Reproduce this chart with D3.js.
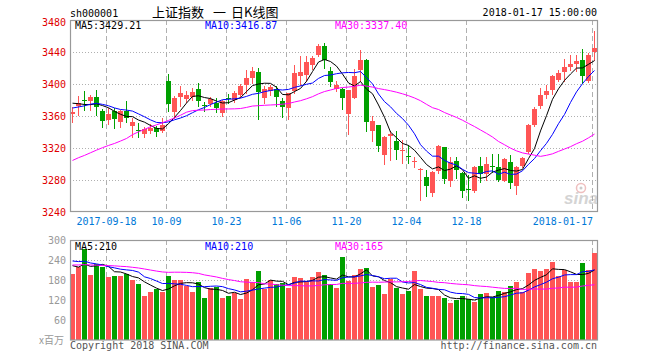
<!DOCTYPE html>
<html><head><meta charset="utf-8">
<script src="https://cdn.jsdelivr.net/npm/d3@7"></script>
<style>body{margin:0;background:#fff;} svg{display:block}</style>
</head><body><svg id="c" width="660" height="360"></svg>
<script>
const dates = ["2017-09-08","2017-09-11","2017-09-12","2017-09-13","2017-09-14","2017-09-15","2017-09-18","2017-09-19","2017-09-20","2017-09-21","2017-09-22","2017-09-25","2017-09-26","2017-09-27","2017-09-28","2017-09-29","2017-10-09","2017-10-10","2017-10-11","2017-10-12","2017-10-13","2017-10-16","2017-10-17","2017-10-18","2017-10-19","2017-10-20","2017-10-23","2017-10-24","2017-10-25","2017-10-26","2017-10-27","2017-10-30","2017-10-31","2017-11-01","2017-11-02","2017-11-03","2017-11-06","2017-11-07","2017-11-08","2017-11-09","2017-11-10","2017-11-13","2017-11-14","2017-11-15","2017-11-16","2017-11-17","2017-11-20","2017-11-21","2017-11-22","2017-11-23","2017-11-24","2017-11-27","2017-11-28","2017-11-29","2017-11-30","2017-12-01","2017-12-04","2017-12-05","2017-12-06","2017-12-07","2017-12-08","2017-12-11","2017-12-12","2017-12-13","2017-12-14","2017-12-15","2017-12-18","2017-12-19","2017-12-20","2017-12-21","2017-12-22","2017-12-25","2017-12-26","2017-12-27","2017-12-28","2017-12-29","2018-01-02","2018-01-03","2018-01-04","2018-01-05","2018-01-08","2018-01-09","2018-01-10","2018-01-11","2018-01-12","2018-01-15","2018-01-16","2018-01-17"];
const opens = [3362,3372,3380.5,3378.3,3383.8,3366,3355,3366,3353,3366,
3347,3343,3337.5,3341.7,3344.6,3341.7,3404.2,3365,3384,3381,
3384,3393.7,3374,3375,3376,3364,3382,3380,3385.8,3399,
3407.5,3415,3382.5,3391,3393.7,3379.2,3370,3390.8,3409.6,3411.7,
3423.3,3435.8,3447.5,3416.7,3394,3393.7,3363,3382.5,3417,3430.4,
3340.8,3348.3,3311.7,3335,3328.75,3316,3310.5,3302.5,3292,3284,
3263.3,3291.7,3320.8,3279.2,3304.2,3289,3268.5,3266.7,3297.5,3287.5,
3298,3295.8,3279.2,3302.5,3273,3297,3315,3348.3,3372,3386.7,
3392,3405.4,3415,3421,3425.5,3430.4,3404.2,3439.6];
const highs = [3371,3385,3391,3386.7,3393,3369,3370,3370,3368,3378.3,
3357,3351,3346.7,3350,3347,3357,3412.5,3385,3397,3391.7,
3395,3400.8,3378,3384,3382.5,3380.4,3387,3391,3400,3417.9,
3421.2,3420,3397,3399,3397,3382.5,3389,3424,3435.4,3435.4,
3435.4,3450.4,3451.3,3421.2,3403.3,3395,3393,3418.8,3442.1,3431,
3360.4,3349,3334.5,3341,3341,3330,3323.75,3309,3295.4,3292.5,
3291,3323.75,3321.5,3308.3,3309,3290,3286,3297.5,3309,3309,
3312,3312.5,3308,3311.7,3297.5,3308.5,3350,3370.8,3395,3399,
3411.7,3418,3431.7,3436,3436.7,3444.2,3439,3466.7];
const lows = [3353,3361,3368,3368,3361.7,3345.8,3350,3345,3346.7,3352,
3334,3334,3333.3,3339,3335.6,3339.6,3365.8,3357,3372,3377.5,
3380,3372.9,3366,3373,3365,3359.6,3376,3378,3384,3388.8,
3401.3,3356,3376,3386,3373,3358.3,3356.3,3388.8,3399.2,3403.3,
3419.2,3434.6,3420,3397.1,3390.8,3368.7,3337.5,3382,3403.3,3341.7,
3329.2,3315.8,3300,3305,3305.8,3301.7,3300.8,3296.7,3255,3260,
3260,3288.3,3275.8,3272.5,3282,3259,3255,3265.4,3278,3280,
3290,3278.3,3278.5,3270,3262.5,3295.8,3313.75,3348,3370,3382.5,
3387.5,3403.3,3403.3,3418,3416,3401.3,3403,3430.4];
const closes = [3365.24,3376.42,3379.49,3384.15,3371.43,3353.62,3362.86,3356.84,3366.00,3357.81,
3352.53,3341.55,3343.58,3345.27,3339.64,3348.94,3374.38,3382.99,3388.28,3386.10,
3390.52,3378.47,3372.04,3381.79,3370.17,3378.65,3380.70,3388.25,3396.90,3407.57,
3416.81,3390.34,3393.34,3395.91,3383.31,3371.74,3388.17,3413.57,3415.46,3427.79,
3432.67,3447.84,3429.55,3402.52,3399.25,3382.91,3392.40,3410.50,3430.46,3351.92,
3353.82,3322.23,3333.66,3337.86,3317.19,3317.62,3309.62,3303.68,3293.96,3272.05,
3289.99,3322.20,3280.81,3303.04,3292.44,3266.14,3267.92,3296.54,3287.61,3300.06,
3297.06,3280.46,3306.12,3275.78,3296.38,3307.17,3348.33,3369.11,3385.71,3391.75,
3409.48,3413.90,3421.83,3425.34,3428.94,3410.49,3436.59,3444.67];
const volumes = [199,218,273,196,227,220,189,192,192,198,
181,169,132,144,152,145,192,180,180,163,
143,174,126,157,160,126,132,141,123,183,
175,207,153,180,168,172,156,189,186,174,
189,204,196,168,156,250,177,196,213,216,
159,165,138,183,156,138,147,208,153,132,
132,132,126,111,120,132,123,114,138,141,
129,147,144,162,174,144,201,213,207,213,
234,192,210,174,174,231,210,261];
// history before the first visible day, used only for the moving averages
const priorCloses = [3273.03,3292.64,3285.06,3272.93,3262.08,3279.46,3281.87,3275.57,3261.75,3208.54,
3237.36,3251.26,3246.45,3268.43,3268.72,3286.91,3290.23,3287.71,3271.51,3331.52,
3362.65,3365.23,3363.63,3360.81,3367.12,3379.58,3384.32,3385.39,3365.50];
const priorVolumes = [215,240,228,250,236,205,218,232,226,244,230,222,238,245,225,226,
168,182,176,174,236,262,248,255,254,240,226,232,218];
const priceTicks = [3240,3280,3320,3360,3400,3440,3480];
const volTicks = [60,120,180,240,300];
const tickDates = ["2017-09-18","2017-10-09","2017-10-23","2017-11-06","2017-11-20","2017-12-04","2017-12-18","2018-01-17"];
const tickLabels = ["2017-09-18","10-09","10-23","11-06","11-20","12-04","12-18","2018-01-17"];
const maPeriods = [5,10,30];
const maColors = ["#000000","#0000ff","#ff00ff"];
const titleParts = ["上证指数", "一", "日K线图"];

const svg = d3.select("#c");
const MONO = "'DejaVu Sans Mono', 'Liberation Mono', monospace";
const CJK = "'Noto Sans CJK SC', sans-serif";
const UP = "#ff5555", DOWN = "#00a000";
const L = 70, R = 597.5, T = 20, B = 211.5, VT = 240, VB = 340;

const x = d3.scaleBand().domain(dates).range([L, L + 6*dates.length - 1]).paddingInner(1/6).paddingOuter(0);
const y = d3.scaleLinear().domain([3240, 3480]).range([212, 20]);
const yv = d3.scaleLinear().domain([0, 300]).range([VB, VT]);

function movingAvg(prior, vals, n) {
  const all = prior.concat(vals);
  const off = prior.length;
  return vals.map((_, i) => d3.mean(all.slice(off + i - n + 1, off + i + 1)));
}
const priceMA = maPeriods.map(n => movingAvg(priorCloses, closes, n));
const volMA = maPeriods.map(n => movingAvg(priorVolumes, volumes, n));

const g = svg.append("g");
const defs = svg.append("defs");
defs.append("clipPath").attr("id","cp").append("rect").attr("x",L).attr("y",T).attr("width",R-L).attr("height",B-T);
defs.append("clipPath").attr("id","cv").append("rect").attr("x",L).attr("y",VT).attr("width",R-L).attr("height",VB-VT);

// grids main
g.selectAll(".hg").data(priceTicks.filter(t => t > 3240 && t < 3480)).join("line")
  .attr("x1", L).attr("x2", R).attr("y1", d => Math.round(y(d)) + 0.5).attr("y2", d => Math.round(y(d)) + 0.5)
  .attr("stroke", "#b0b0b0").attr("stroke-dasharray", "1,2");
g.selectAll(".vg").data(tickDates).join("line")
  .attr("x1", d => x(d) + 0.5).attr("x2", d => x(d) + 0.5).attr("y1", T).attr("y2", B)
  .attr("stroke", "#b0b0b0").attr("stroke-dasharray", "5,3");
// grids volume
g.selectAll(".hvg").data(volTicks.filter(t => t < 300)).join("line")
  .attr("x1", L).attr("x2", R).attr("y1", d => Math.round(yv(d)) + 0.5).attr("y2", d => Math.round(yv(d)) + 0.5)
  .attr("stroke", "#b0b0b0").attr("stroke-dasharray", "1,2");
g.selectAll(".vvg").data(tickDates).join("line")
  .attr("x1", d => x(d) + 0.5).attr("x2", d => x(d) + 0.5).attr("y1", VT).attr("y2", VB)
  .attr("stroke", "#b0b0b0").attr("stroke-dasharray", "5,3");

// watermark
const wm = g.append("g").attr("opacity", 0.5);
wm.append("circle").attr("cx", 581).attr("cy", 188).attr("r", 4.5).attr("fill", "none").attr("stroke", "#e08080").attr("stroke-width", 1.5);
wm.append("circle").attr("cx", 581).attr("cy", 188).attr("r", 1.5).attr("fill", "#999");
wm.append("text").attr("x", 564).attr("y", 204).attr("font-family", "'Liberation Sans', Arial, sans-serif")
  .attr("font-size", 17).attr("font-weight", "bold").attr("font-style", "italic").attr("fill", "#aaa").text("sina");

// candles
const cg = g.append("g").attr("clip-path", "url(#cp)").attr("shape-rendering", "crispEdges");
dates.forEach((d, i) => {
  const o = opens[i], c = closes[i], h = highs[i], l = lows[i];
  const col = c >= o ? UP : DOWN;
  const xl = x(d);
  cg.append("line").attr("x1", xl + 2.5).attr("x2", xl + 2.5)
    .attr("y1", Math.round(y(h))).attr("y2", Math.round(y(l)) + 1).attr("stroke", col);
  const yt = Math.round(y(Math.max(o, c))), yb = Math.round(y(Math.min(o, c)));
  cg.append("rect").attr("x", xl).attr("width", x.bandwidth()).attr("y", yt)
    .attr("height", Math.max(1, yb - yt)).attr("fill", col);
});
// volume bars
const vg = g.append("g").attr("clip-path", "url(#cv)").attr("shape-rendering", "crispEdges");
vg.selectAll("rect").data(dates).join("rect")
  .attr("x", d => x(d)).attr("width", x.bandwidth())
  .attr("y", (d, i) => Math.round(yv(volumes[i]))).attr("height", (d, i) => VB - Math.round(yv(volumes[i])))
  .attr("fill", (d, i) => closes[i] >= opens[i] ? UP : DOWN);

// MA lines
const lineP = d3.line().x((v, i) => x(dates[i]) + 2.5).y(v => y(v));
const lineV = d3.line().x((v, i) => x(dates[i]) + 2.5).y(v => yv(v));
const mg = g.append("g").attr("clip-path", "url(#cp)");
priceMA.forEach((arr, k) => mg.append("path").attr("d", lineP(arr)).attr("fill", "none").attr("stroke", maColors[k]).attr("stroke-width", 1));
const mvg = g.append("g").attr("clip-path", "url(#cv)");
volMA.forEach((arr, k) => mvg.append("path").attr("d", lineV(arr)).attr("fill", "none").attr("stroke", maColors[k]).attr("stroke-width", 1));

// frames
g.append("rect").attr("x", L + 0.5).attr("y", T + 0.5).attr("width", R - L - 0.5).attr("height", B - T - 0.5)
  .attr("fill", "none").attr("stroke", "#999").attr("stroke-width", 1.2);
g.append("rect").attr("x", L + 0.5).attr("y", VT + 0.5).attr("width", R - L - 0.5).attr("height", VB - VT - 0.5)
  .attr("fill", "none").attr("stroke", "#999").attr("stroke-width", 1.2);

// texts
const txt = (xx, yy, s, col, anchor, size, fam) => svg.append("text").attr("x", xx).attr("y", yy)
  .attr("fill", col).attr("text-anchor", anchor || "start").attr("font-size", size || 10)
  .attr("font-family", fam || MONO).text(s);

txt(70, 16.5, "sh000001", "#000");
const title = svg.append("text").attr("y", 16.5).attr("font-family", CJK).attr("font-size", 13).attr("fill", "#000");
const titleX = [152, 213, 231];
titleParts.forEach((s, k) => title.append("tspan").attr("x", titleX[k]).text(s));
txt(597, 16, "2018-01-17 15:00:00", "#000", "end");

const last = dates.length - 1;
const pLab = ["MA5:", "MA10:", "MA30:"];
const pX = [75, 205, 335];
priceMA.forEach((arr, k) => txt(pX[k], 29, pLab[k] + arr[last].toFixed(2), maColors[k]));
volMA.forEach((arr, k) => txt(pX[k], 250, pLab[k] + Math.floor(arr[last]), maColors[k]));

svg.selectAll(".pl").data(priceTicks).join("text")
  .attr("x", 66).attr("y", d => d === 3480 ? 25.7 : y(d) + 3.7).attr("text-anchor", "end")
  .attr("font-family", MONO).attr("font-size", 10).attr("fill", "#e00000").text(d => d);
svg.selectAll(".vl").data(volTicks).join("text")
  .attr("x", 66).attr("y", d => yv(d) + 3.7).attr("text-anchor", "end")
  .attr("font-family", MONO).attr("font-size", 10).attr("fill", "#999").text(d => d);
txt(64, 344, "x百万", "#999", "end", 10, CJK);

svg.selectAll(".dl").data(tickDates).join("text")
  .attr("x", (d, i) => i === tickDates.length - 1 ? x(d) + 1 : x(d) + 0.5).attr("y", 225)
  .attr("text-anchor", (d, i) => i === tickDates.length - 1 ? "end" : "middle")
  .attr("font-family", MONO).attr("font-size", 10).attr("fill", "#0078d7").text((d, i) => tickLabels[i]);

txt(70, 349, "Copyright 2018 SINA.COM", "#555");
txt(597, 349, "http://finance.sina.com.cn", "#555", "end");
</script></body></html>
